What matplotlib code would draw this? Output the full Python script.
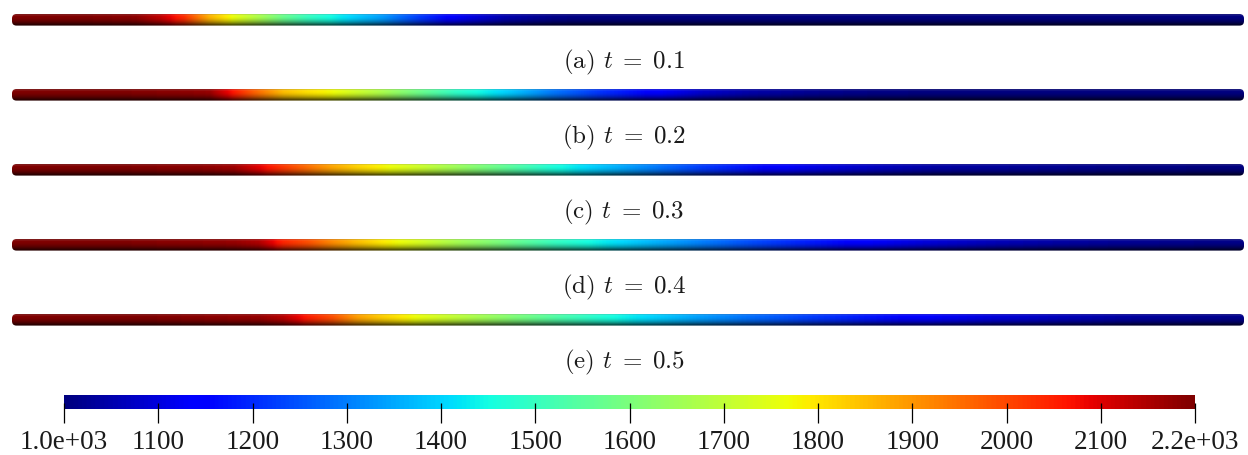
import numpy as np
import matplotlib
matplotlib.use("Agg")
import matplotlib.pyplot as plt
from matplotlib.patches import FancyBboxPatch
from matplotlib.colors import Normalize

plt.rcParams["mathtext.fontset"] = "cm"

# Temperature along the rod (position as a fraction of rod length)
positions = [0.00, 0.05, 0.10, 0.12, 0.14, 0.16, 0.18, 0.20, 0.22, 0.24,
             0.26, 0.28, 0.30, 0.33, 0.36, 0.40, 0.44, 0.48, 0.52, 0.56,
             0.60, 0.65, 0.70, 0.75, 0.80, 0.85, 0.90, 0.95, 1.00]

temp_t01 = [2200, 2200, 2185, 2130, 2030, 1865, 1760, 1670, 1575, 1500,
            1445, 1390, 1335, 1222, 1130, 1050, 1012, 1002, 1000, 1000,
            1000, 1000, 1000, 1000, 1000, 1000, 1000, 1000, 1000]
temp_t02 = [2200, 2200, 2195, 2190, 2185, 2175, 2060, 1950, 1850, 1805,
            1770, 1720, 1670, 1580, 1490, 1400, 1290, 1205, 1145, 1080,
            1045, 1020, 1008, 1002, 1000, 1000, 1000, 1000, 1000]
temp_t03 = [2200, 2200, 2195, 2190, 2185, 2180, 2165, 2095, 2020, 1950,
            1880, 1825, 1780, 1720, 1650, 1560, 1460, 1380, 1300, 1220,
            1165, 1110, 1070, 1040, 1030, 1020, 1010, 1005, 1000]
temp_t04 = [2200, 2200, 2195, 2190, 2185, 2180, 2175, 2150, 2045, 1990,
            1915, 1850, 1795, 1735, 1665, 1590, 1500, 1430, 1365, 1300,
            1240, 1180, 1130, 1090, 1060, 1040, 1025, 1015, 1010]
temp_t05 = [2200, 2200, 2198, 2195, 2190, 2185, 2180, 2175, 2140, 2055,
            1990, 1890, 1830, 1760, 1700, 1620, 1540, 1465, 1400, 1335,
            1280, 1220, 1170, 1130, 1095, 1065, 1040, 1025, 1015]

profiles = [temp_t01, temp_t02, temp_t03, temp_t04, temp_t05]
captions = [r"(a) $t\;=\;0.1$", r"(b) $t\;=\;0.2$", r"(c) $t\;=\;0.3$",
            r"(d) $t\;=\;0.4$", r"(e) $t\;=\;0.5$"]

t_min, t_max = 1000, 2200
cbar_ticks = [1000, 1100, 1200, 1300, 1400, 1500, 1600, 1700, 1800,
              1900, 2000, 2100, 2200]
cbar_labels = ["1.0e+03", "1100", "1200", "1300", "1400", "1500", "1600",
               "1700", "1800", "1900", "2000", "2100", "2.2e+03"]

W, H = 1248, 455
fig = plt.figure(figsize=(W / 100, H / 100), dpi=100)
fig.patch.set_facecolor("white")


def px_axes(x0, y0, w, h):
    return fig.add_axes([x0 / W, 1 - (y0 + h) / H, w / W, h / H])


cmap = plt.get_cmap("jet")
norm = Normalize(t_min, t_max)

# Lighting across the tube cross-section (top to bottom)
n_rows = 40
yy = np.linspace(-1, 1, n_rows)
theta = np.arcsin(yy)
light = np.deg2rad(-40)
diffuse = np.clip(np.cos(theta - light), 0, None)
shade = 0.32 + 0.68 * diffuse
spec = 0.15 * np.exp(-((yy + 0.88) / 0.12) ** 2)

rod_left, rod_width, rod_h = 12, 1232, 11.6
rod_centers = [19.8, 94.8, 169.8, 244.8, 319.8]
caption_y = [62.5, 137.5, 212.5, 287.5, 362.5]

s = np.linspace(0, 1, 2400)
for temps, yc, cap, cy in zip(profiles, rod_centers, captions, caption_y):
    ax = px_axes(rod_left, yc - rod_h / 2, rod_width, rod_h)
    T = np.interp(s, positions, temps)
    rgb = cmap(norm(T))[:, :3]
    img = rgb[None, :, :] * shade[:, None, None]
    img = img + spec[:, None, None] * (1 - img)
    img = np.clip(img, 0, 1)
    im = ax.imshow(img, extent=(0, 1, 0, 1), aspect="auto",
                   interpolation="bilinear", origin="upper")
    ax.set_xlim(0, 1)
    ax.set_ylim(0, 1)
    ax.axis("off")
    r_px = 4.5
    clip = FancyBboxPatch((0, 0), 1, 1,
                          boxstyle=f"round,pad=0,rounding_size={r_px / rod_width}",
                          mutation_aspect=rod_width / rod_h,
                          transform=ax.transAxes, facecolor="none",
                          edgecolor="none")
    ax.add_patch(clip)
    im.set_clip_path(clip)

    fig.text(0.5, 1 - cy / H, cap, ha="center", va="center",
             fontsize=18, family="cmr10", color="#1a1a1a")

# Colour bar
cax = px_axes(64, 395, 1131, 14)
grad = np.linspace(t_min, t_max, 1200)[None, :]
cax.imshow(grad, cmap=cmap, norm=norm, extent=(t_min, t_max, 0, 1),
           aspect="auto", interpolation="bilinear")
cax.set_xlim(t_min, t_max)
cax.set_ylim(0, 1)
for sp in cax.spines.values():
    sp.set_visible(False)
cax.set_yticks([])
cax.set_xticks(cbar_ticks)
cax.set_xticklabels(cbar_labels, family="Liberation Serif", fontsize=19.5,
                    color="#1a1a1a")
cax.tick_params(axis="x", length=0, pad=15)
cax.vlines(cbar_ticks, -1.0, 0.43, colors="black", linewidth=0.9,
           clip_on=False)

fig.savefig("out.png", dpi=100, facecolor="white")
